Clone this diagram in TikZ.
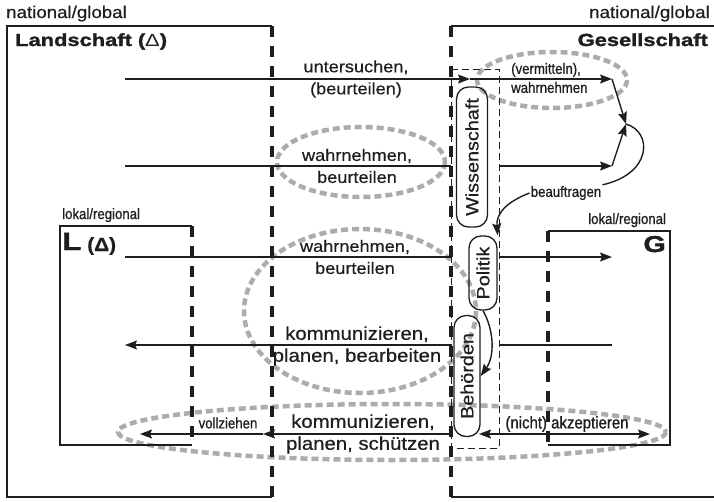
\documentclass[tikz,border=0pt]{standalone}
\usepackage{fontspec}
\setmainfont{Liberation Sans}[FakeStretch=1.1,FakeBold=0.5]
\newfontfamily\narrowfont{Liberation Sans}[FakeStretch=0.88,FakeBold=0.9]
\newfontfamily\widefont{Liberation Sans}[FakeStretch=1.25,BoldFeatures={FakeBold=1.6}]
\usetikzlibrary{arrows.meta}
\definecolor{ink}{RGB}{30,30,30}
\definecolor{haze}{RGB}{172,172,172}
\tikzset{
  arr/.style={->,ink,line width=1.4pt},
  plain/.style={ink,line width=1.4pt},
  frame/.style={ink,line width=1.3pt},
  bound/.style={ink,line width=4pt,dash pattern=on 11pt off 9pt},
  column/.style={ink,line width=0.9pt,dash pattern=on 7pt off 4pt},
  halo/.style={haze,line width=4.5pt,dash pattern=on 7pt off 4pt},
  inst/.style={draw=ink,line width=1.3pt,rounded corners=12pt,rotate=90,%
    inner sep=0pt,text=ink,font=\fontsize{18}{20}\selectfont},
  verb/.style={align=center,text=ink,font=\fontsize{16.5}{22}\selectfont},
  bigverb/.style={align=center,text=ink,font=\fontsize{18.5}{22}\selectfont},
  note/.style={text=ink,inner sep=1pt,font=\narrowfont\fontsize{15}{19}\selectfont},
  reach/.style={anchor=base west,text=ink,inner sep=0pt,font=\fontsize{17}{17}\selectfont},
  head/.style={anchor=base west,text=ink,inner sep=0pt,%
    font=\widefont\bfseries\fontsize{17.5}{17.5}\selectfont},
}
\begin{document}
\begin{tikzpicture}[x=1pt,y=-1pt,>={Stealth[length=12pt,width=9pt,inset=2pt]}]
      \useasboundingbox (0,0) rectangle (714,501) ;
      % gray halos
      \draw[halo] (552,80) ellipse (75 and 28) ;
      \draw[halo] (361,162) ellipse (84 and 35) ;
      \draw[halo] (360,311) ellipse (116 and 82) ;
      \draw[halo] (392,432) ellipse (274 and 28) ;
      % frames
      \draw[frame] (272,26) -- (7,26) -- (7,497) -- (272,497) ;
      \draw[frame] (714,26) -- (451,26) ;
      \draw[frame] (451,497) -- (714,497) ;
      \draw[frame] (192,226) -- (60,226) -- (60,445) -- (192,445) ;
      \draw[frame] (548,231) -- (670,231) -- (670,445) -- (548,445) ;
      \draw[bound] (272,26) -- (272,497) ;
      \draw[bound] (451,26) -- (451,497) ;
      \draw[bound] (192,226) -- (192,445) ;
      \draw[bound] (548,231) -- (548,445) ;
      \draw[column] (451,69) rectangle (499,448) ;
      % titles
      \node[reach] (ng1) at (6,18) {national/global} ;
      \node[reach,anchor=base east] (ng2) at (710,18) {national/global} ;
      \node[head] (land) at (15,46) {Landschaft ({\mdseries Δ})} ;
      \node[head,anchor=base east] (ges) at (708,46) {Gesellschaft} ;
      \node[note,anchor=base west] (lr1) at (61,219) {lokal/regional} ;
      \node[note,anchor=base west] (lr2) at (587,224) {lokal/regional} ;
      \node[anchor=base west,inner sep=0pt,text=ink,%
        font=\widefont\bfseries\fontsize{25}{25}\selectfont] (lbig) at (62,250) {L} ;
      \node[anchor=base west,inner sep=0pt,text=ink,%
        font=\bfseries\fontsize{19}{19}\selectfont] (ldel) at (87,251) {(Δ)} ;
      \node[anchor=base east,inner sep=0pt,text=ink,%
        font=\widefont\bfseries\fontsize{23}{23}\selectfont] (gbig) at (666,252) {G} ;
      % institutions
      \node[inst,minimum width=140pt,minimum height=31pt] (wis) at (472,157) {Wissenschaft} ;
      \node[inst,minimum width=74pt,minimum height=28pt] (pol) at (483,273) {Politik} ;
      \node[inst,minimum width=121pt,minimum height=26pt] (beh) at (467,376) {Behörden} ;
      % end points
      \coordinate (a1) at (125,79) ; \coordinate (a1m) at (470,79) ; \coordinate (a1e) at (612,79) ;
      \coordinate (a2) at (125,166) ; \coordinate (a2r) at (451,166) ;
      \coordinate (a2s) at (499,166) ; \coordinate (a2e) at (612,166) ;
      \coordinate (jn) at (626,124) ;
      \coordinate (a3) at (125,257) ; \coordinate (a3r) at (451,257) ;
      \coordinate (a3s) at (499,257) ; \coordinate (a3e) at (612,257) ;
      \coordinate (a4) at (125,345) ; \coordinate (a4r) at (451,345) ;
      \coordinate (a4s) at (499,345) ; \coordinate (a4e) at (612,345) ;
      \coordinate (a5) at (140,434) ; \coordinate (a5m) at (263,434) ;
      \coordinate (a5r) at (451,434) ; \coordinate (a5b) at (479,434) ;
      \coordinate (a5e) at (650,434) ;
      % arrows
      \draw[arr] (a1) -- (a1m) ;
      \draw[arr] (a1m) -- (a1e) ;
      \draw[arr] (a1e) -- (jn) ;
      \draw[plain] (a2) -- (a2r) ;
      \draw[arr] (a2s) -- (a2e) ;
      \draw[arr] (a2e) -- (jn) ;
      \draw[plain] (a3) -- (a3r) ;
      \draw[arr] (a3s) -- (a3e) ;
      \draw[arr] (a4r) -- (a4) ;
      \draw[plain] (a4s) -- (a4e) ;
      \draw[arr] (a5r) -- (a5m) ;
      \draw[arr] (a5m) -- (a5) ;
      \draw[arr,<->] (a5b) -- (a5e) ;
      % labels
      \node[verb] (unt) at (356,79) {untersuchen,\\(beurteilen)} ;
      \node[note,align=left,anchor=west] (ver) at (510,78) {(vermitteln),\\wahrnehmen} ;
      \node[verb] (wb1) at (357,166) {wahrnehmen,\\beurteilen} ;
      \node[verb] (wb2) at (355,257) {wahrnehmen,\\beurteilen} ;
      \node[bigverb] (kpb) at (357,346) {kommunizieren,\\planen, bearbeiten} ;
      \node[bigverb] (kps) at (363,434) {kommunizieren,\\planen, schützen} ;
      \node[note] (bea) at (566,193) {beauftragen} ;
      \node[note] (vol) at (228,423) {vollziehen} ;
      \node[note,font=\narrowfont\fontsize{17}{19}\selectfont] (akz) at (567,424) {(nicht) akzeptieren} ;
      % commissioning
      \draw[plain] (jn) .. controls (653,132) and (652,174) .. (bea.north east) ;
      \draw[arr] (bea.west) .. controls (506,202) and (496,214) .. (pol.south east) ;
      \draw[arr] (pol.west) .. controls (494,330) and (495,356) .. (beh.south) ;
    \end{tikzpicture}
\end{document}
